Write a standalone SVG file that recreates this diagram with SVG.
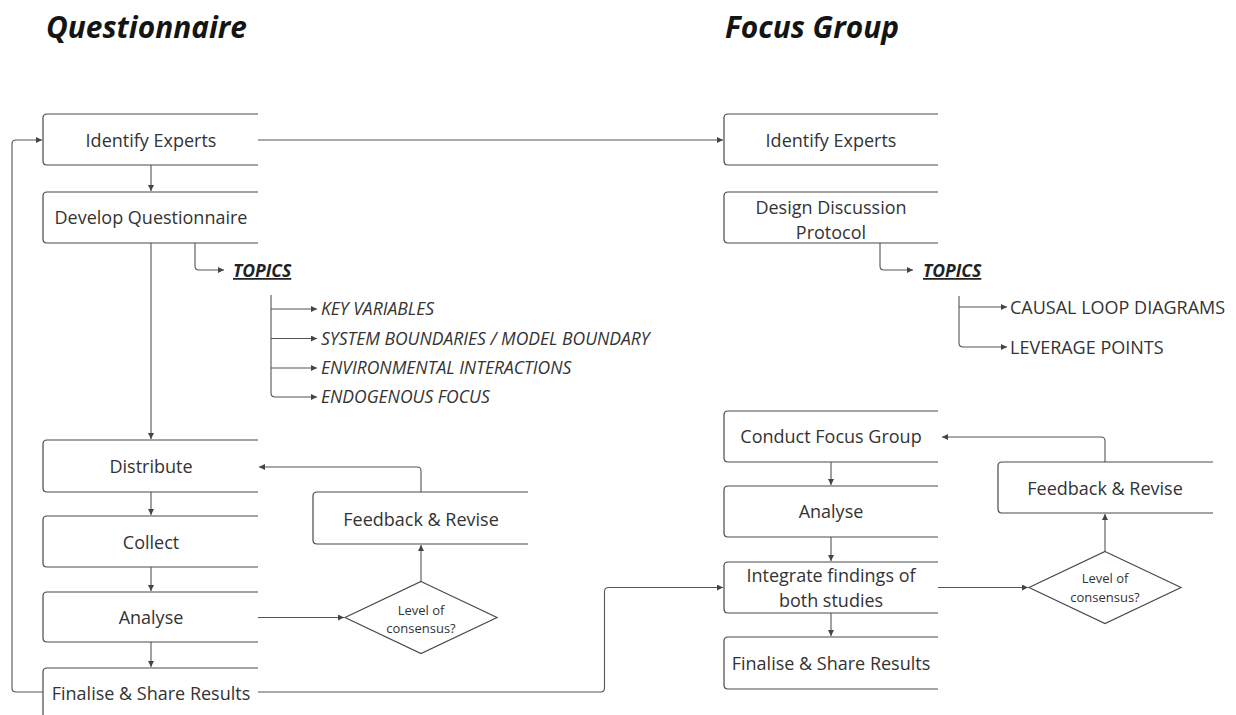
<svg xmlns="http://www.w3.org/2000/svg" width="1236" height="715" viewBox="0 0 1236 715">
<style>
.title{font-family:"Open Sans","Liberation Sans",sans-serif;font-weight:700;font-style:italic;font-size:30px;fill:#141414}
.box{fill:none;stroke:#4a4a4a;stroke-width:1.2}
.lbl{font-family:"Open Sans","Liberation Sans",sans-serif;font-size:18px;fill:#333;text-anchor:middle}
.dlbl{font-family:"Open Sans","Liberation Sans",sans-serif;font-size:13px;fill:#333;text-anchor:middle}
.topic{font-family:"Open Sans","Liberation Sans",sans-serif;font-size:17.5px;font-style:italic;fill:#333}
.topic2{font-family:"Open Sans","Liberation Sans",sans-serif;font-size:18px;fill:#333}
.head{font-family:"Open Sans","Liberation Sans",sans-serif;font-size:17.5px;font-weight:700;font-style:italic;fill:#222;text-decoration:underline}
.con{fill:none;stroke:#555;stroke-width:1.1}
</style>
<defs>
<marker id="arr" markerUnits="userSpaceOnUse" markerWidth="7" markerHeight="7" refX="6" refY="3" orient="auto">
<path d="M0,0 L6,3 L0,6 z" fill="#444"/>
</marker>
</defs>

<text class="title" x="46" y="38" textLength="201" lengthAdjust="spacingAndGlyphs">Questionnaire</text>
<text class="title" x="725" y="38" textLength="174" lengthAdjust="spacingAndGlyphs">Focus Group</text>

<g id="connectors">
<path class="con" d="M43,692 H16 Q12,692 12,688 V144 Q12,140 16,140 H42" marker-end="url(#arr)"/>
<path class="con" d="M258,140 H723" marker-end="url(#arr)"/>
<path class="con" d="M151,165 V191" marker-end="url(#arr)"/>
<path class="con" d="M151,243 V439" marker-end="url(#arr)"/>
<path class="con" d="M195,243 V266 Q195,270 199,270 H224" marker-end="url(#arr)"/>
<path class="con" d="M271,295 V393 Q271,397 275,397 H317" marker-end="url(#arr)"/>
<path class="con" d="M271,309 H317" marker-end="url(#arr)"/>
<path class="con" d="M271,338.5 H317" marker-end="url(#arr)"/>
<path class="con" d="M271,368 H317" marker-end="url(#arr)"/>
<path class="con" d="M151,492 V515" marker-end="url(#arr)"/>
<path class="con" d="M151,567 V591" marker-end="url(#arr)"/>
<path class="con" d="M151,642 V667" marker-end="url(#arr)"/>
<path class="con" d="M258,617.5 H344" marker-end="url(#arr)"/>
<path class="con" d="M421,581.5 V545" marker-end="url(#arr)"/>
<path class="con" d="M421,492 V471 Q421,467 417,467 H259" marker-end="url(#arr)"/>
<path class="con" d="M258,692 H600.5 Q604.5,692 604.5,688 V591.5 Q604.5,587.5 608.5,587.5 H723" marker-end="url(#arr)"/>
<path class="con" d="M880,243 V266 Q880,270 884,270 H913" marker-end="url(#arr)"/>
<path class="con" d="M959,296 V343 Q959,347 963,347 H1007" marker-end="url(#arr)"/>
<path class="con" d="M959,307 H1007" marker-end="url(#arr)"/>
<path class="con" d="M831,462 V485" marker-end="url(#arr)"/>
<path class="con" d="M831,537 V561" marker-end="url(#arr)"/>
<path class="con" d="M831,613 V636" marker-end="url(#arr)"/>
<path class="con" d="M938,587.5 H1028" marker-end="url(#arr)"/>
<path class="con" d="M1105,551.5 V514" marker-end="url(#arr)"/>
<path class="con" d="M1105,462 V441 Q1105,437 1101,437 H942" marker-end="url(#arr)"/>
</g>

<g id="q-identify">
<path class="box" d="M258,114 H47 Q43,114 43,118 V161 Q43,165 47,165 H258"/>
<text class="lbl" x="151" y="146.5">Identify Experts</text>
</g>
<g id="q-develop">
<path class="box" d="M258,192 H47 Q43,192 43,196 V239 Q43,243 47,243 H258"/>
<text class="lbl" x="151" y="224">Develop Questionnaire</text>
</g>
<g id="q-topics">
<text class="head" x="233" y="277">TOPICS</text>
<text class="topic" x="321" y="315">KEY VARIABLES</text>
<text class="topic" x="321" y="344.5">SYSTEM BOUNDARIES / MODEL BOUNDARY</text>
<text class="topic" x="321" y="374">ENVIRONMENTAL INTERACTIONS</text>
<text class="topic" x="321" y="403">ENDOGENOUS FOCUS</text>
</g>
<g id="q-distribute">
<path class="box" d="M258,440 H47 Q43,440 43,444 V488 Q43,492 47,492 H258"/>
<text class="lbl" x="151" y="473">Distribute</text>
</g>
<g id="q-collect">
<path class="box" d="M258,516 H47 Q43,516 43,520 V563 Q43,567 47,567 H258"/>
<text class="lbl" x="151" y="548.5">Collect</text>
</g>
<g id="q-analyse">
<path class="box" d="M258,592 H47 Q43,592 43,596 V638 Q43,642 47,642 H258"/>
<text class="lbl" x="151" y="624">Analyse</text>
</g>
<g id="q-finalise">
<path class="box" d="M258,668 H47 Q43,668 43,672 V720"/>
<text class="lbl" x="151" y="700">Finalise &amp; Share Results</text>
</g>
<g id="q-feedback">
<path class="box" d="M528,492 H317 Q313,492 313,496 V540 Q313,544 317,544 H528"/>
<text class="lbl" x="421" y="525.5">Feedback &amp; Revise</text>
</g>
<g id="q-consensus">
<path class="box" d="M421,581.5 L497,617.5 L421,653.5 L345,617.5 Z"/>
<text class="dlbl" x="421" y="614.5">Level of</text>
<text class="dlbl" x="421" y="632.5">consensus?</text>
</g>

<g id="f-identify">
<path class="box" d="M938,114 H728 Q724,114 724,118 V161 Q724,165 728,165 H938"/>
<text class="lbl" x="831" y="146.5">Identify Experts</text>
</g>
<g id="f-design">
<path class="box" d="M938,192 H728 Q724,192 724,196 V239 Q724,243 728,243 H938"/>
<text class="lbl" x="831" y="214">Design Discussion</text>
<text class="lbl" x="831" y="239">Protocol</text>
</g>
<g id="f-topics">
<text class="head" x="923" y="277">TOPICS</text>
<text class="topic2" x="1010" y="313.5">CAUSAL LOOP DIAGRAMS</text>
<text class="topic2" x="1010" y="353.5">LEVERAGE POINTS</text>
</g>
<g id="f-conduct">
<path class="box" d="M938,411 H728 Q724,411 724,415 V458 Q724,462 728,462 H938"/>
<text class="lbl" x="831" y="443">Conduct Focus Group</text>
</g>
<g id="f-analyse">
<path class="box" d="M938,486 H728 Q724,486 724,490 V533 Q724,537 728,537 H938"/>
<text class="lbl" x="831" y="518">Analyse</text>
</g>
<g id="f-integrate">
<path class="box" d="M938,562 H728 Q724,562 724,566 V609 Q724,613 728,613 H938"/>
<text class="lbl" x="831" y="581.5">Integrate findings of</text>
<text class="lbl" x="831" y="606.5">both studies</text>
</g>
<g id="f-finalise">
<path class="box" d="M938,637 H728 Q724,637 724,641 V685 Q724,689 728,689 H938"/>
<text class="lbl" x="831" y="670">Finalise &amp; Share Results</text>
</g>
<g id="f-feedback">
<path class="box" d="M1213,462 H1002 Q998,462 998,466 V509 Q998,513 1002,513 H1213"/>
<text class="lbl" x="1105" y="495">Feedback &amp; Revise</text>
</g>
<g id="f-consensus">
<path class="box" d="M1105,551.5 L1181,587.5 L1105,623.5 L1029,587.5 Z"/>
<text class="dlbl" x="1105" y="583">Level of</text>
<text class="dlbl" x="1105" y="601.5">consensus?</text>
</g>
</svg>
